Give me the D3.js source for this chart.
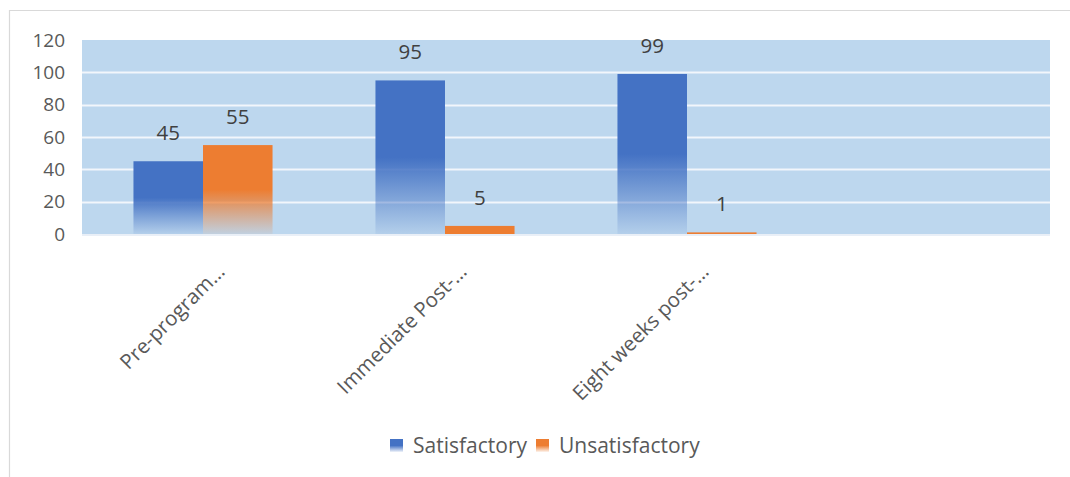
<!DOCTYPE html>
<html><head><meta charset="utf-8">
<script src="https://cdn.jsdelivr.net/npm/d3@7"></script>
<style>body{margin:0;background:#fff;}svg{display:block;font-family:"Open Sans",sans-serif;}</style>
</head><body>
<svg id="chart" width="1070" height="477"></svg>
<script>
const categories = ["Pre-program…", "Immediate Post-…", "Eight weeks post-…", ""];
const seriesNames = ["Satisfactory", "Unsatisfactory"];
const satisfactory = [45, 95, 99, null];
const unsatisfactory = [55, 5, 1, null];
const yTicks = [0, 20, 40, 60, 80, 100, 120];
const colors = ["#4472c4", "#ed7d31"];

const svg = d3.select("#chart");
const W = 1070, H = 477;
const plot = {left: 82, right: 1050, top: 40, bottom: 234};

// frame
svg.append("path").attr("d", `M9.5,${H} V10.5 H${W}`).attr("fill", "none").attr("stroke", "#d9d9d9").attr("stroke-width", 1.2);

const x = d3.scaleBand().domain(categories.map((c, i) => i)).range([plot.left, plot.right]).paddingInner(0).paddingOuter(0);
const xs = d3.scaleBand().domain([0, 1]).range([0, x.bandwidth()]).paddingInner(0).paddingOuter(0.74);
const y = d3.scaleLinear().domain([0, 120]).range([plot.bottom, plot.top]);

const defs = svg.append("defs");
colors.forEach((c, i) => {
  const g = defs.append("linearGradient").attr("id", "grad" + i).attr("x1", 0).attr("y1", 0).attr("x2", 0).attr("y2", 1);
  g.append("stop").attr("offset", "0").attr("stop-color", c).attr("stop-opacity", 1);
  g.append("stop").attr("offset", "0.5").attr("stop-color", c).attr("stop-opacity", 1);
  g.append("stop").attr("offset", "1").attr("stop-color", c).attr("stop-opacity", 0.08);
});

// plot background
svg.append("rect").attr("x", plot.left).attr("y", plot.top).attr("width", plot.right - plot.left).attr("height", plot.bottom - plot.top).attr("fill", "#bdd7ee");

// gridlines
svg.append("g").selectAll("line").data(yTicks.filter(t => t > 0 && t < 120)).join("line")
  .attr("x1", plot.left).attr("x2", plot.right)
  .attr("y1", d => Math.round(y(d)) + 0.5).attr("y2", d => Math.round(y(d)) + 0.5)
  .attr("stroke", "#f2f6fb").attr("stroke-width", 2);
svg.append("line").attr("x1", plot.left).attr("x2", plot.right).attr("y1", plot.bottom + 1).attr("y2", plot.bottom + 1).attr("stroke", "#e9eff7").attr("stroke-width", 2);

// y axis
const yAxis = d3.axisLeft(y).tickValues(yTicks).tickSize(0).tickPadding(17);
const ya = svg.append("g").attr("transform", `translate(${plot.left},0)`).call(yAxis);
ya.select(".domain").remove();
ya.selectAll("text").attr("font-size", 19).attr("fill", "#595959").attr("font-family", "Open Sans");

// bars
const data = [satisfactory, unsatisfactory];
data.forEach((vals, s) => {
  const g = svg.append("g");
  vals.forEach((v, i) => {
    if (v == null) return;
    g.append("rect")
      .attr("x", x(i) + xs(s)).attr("width", xs.bandwidth())
      .attr("y", y(v)).attr("height", y(0) - y(v))
      .attr("fill", (y(0) - y(v)) > 20 ? `url(#grad${s})` : colors[s]);
    g.append("text").attr("x", x(i) + xs(s) + xs.bandwidth() / 2).attr("y", y(v) - 21)
      .attr("text-anchor", "middle").attr("font-size", 20.5).attr("fill", "#404040").text(v);
  });
});

// x labels (rotated, end-anchored near each category centre)
const xa = svg.append("g").attr("transform", `translate(0,${plot.bottom})`)
  .call(d3.axisBottom(x).tickSize(0).tickFormat(i => categories[i]));
xa.select(".domain").remove();
xa.selectAll("text").attr("font-size", 20.5).attr("fill", "#595959").attr("font-family", "Open Sans")
  .attr("text-anchor", "end").attr("y", 0).attr("dy", 0)
  .attr("transform", "translate(23,39) rotate(-45)");

// legend
const legend = svg.append("g").attr("transform", "translate(390,439)");
const items = [{name: seriesNames[0], x: 0}, {name: seriesNames[1], x: 146}];
items.forEach((it, i) => {
  legend.append("rect").attr("x", it.x).attr("y", 0).attr("width", 13).attr("height", 13).attr("fill", `url(#grad${i})`);
  legend.append("text").attr("x", it.x + 23).attr("y", 14).attr("font-size", 21).attr("fill", "#595959").text(it.name);
});
</script>
</body></html>
